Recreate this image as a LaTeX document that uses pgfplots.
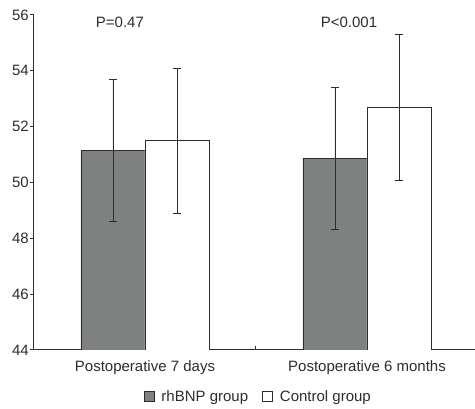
\documentclass[border=0pt]{standalone}
\usepackage{pgfplots}
\pgfplotsset{compat=1.18}
\usepackage{fontspec}
\setmainfont{Liberation Sans}
\definecolor{barg}{RGB}{127,129,129}
\definecolor{edge}{RGB}{45,45,45}
\begin{document}
\begin{tikzpicture}
\begin{axis}[
  scale only axis, width=444pt, height=335pt,
  xmin=-0.5, xmax=1.5, ymin=44, ymax=56,
  clip mode=individual,
  hide obscured y ticks=false,
  /pgf/number format/assume math mode=true,
  ybar=0pt, bar width=64pt,
  axis lines=left,
  axis line style={-, draw=edge, line width=1pt},
  ytick={44,46,...,56},
  tick style={draw=edge, line width=1pt},
  tick align=outside, major tick length=4pt,
  x tick style={yshift=4pt},
  xtick={-0.5,0.5,1.5}, x tick label as interval,
  xticklabels={Postoperative 7 days, Postoperative 6 months},
  tick label style={font=\fontsize{15}{18}\selectfont, text=edge},
  yticklabel style={inner xsep=1pt},
  xticklabel style={yshift=-3pt},
  legend style={at={(0.505,-0.14)}, anchor=center, draw=none, legend columns=2,
    font=\fontsize{15}{18}\selectfont, text=edge,
    /tikz/every odd column/.append style={column sep=5pt},
    /tikz/every even column/.append style={column sep=12pt}},
  legend image code/.code={\draw[#1, line width=0.8pt] (0pt,-5pt) rectangle (10pt,5pt);},
]
\addplot[fill=barg, draw=edge, line width=0.9pt,
  error bars/.cd, y dir=both, y explicit,
  error bar style={draw=edge, line width=0.8pt},
  error mark options={rotate=90, mark size=4pt, draw=edge, line width=0.8pt}]
  coordinates {(0,51.15) +- (0,2.55) (1,50.87) +- (0,2.54)};
\addlegendentry{rhBNP group}
\addplot[fill=white, draw=edge, line width=0.9pt,
  error bars/.cd, y dir=both, y explicit,
  error bar style={draw=edge, line width=0.8pt},
  error mark options={rotate=90, mark size=4pt, draw=edge, line width=0.8pt}]
  coordinates {(0,51.49) +- (0,2.60) (1,52.69) +- (0,2.63)};
\addlegendentry{Control group}
\pgfplotsinvokeforeach{44,46,48,50,52,54,56}{
  \draw[edge, line width=1pt] (axis cs:-0.5,#1) -- ++(-4pt,0pt);
}
\node[font=\fontsize{15}{18}\selectfont, text=edge] at (axis cs:-0.113,55.75) {P=0.47};
\node[font=\fontsize{15}{18}\selectfont, text=edge] at (axis cs:0.919,55.75) {P<0.001};
\end{axis}
\pgfresetboundingbox
\path ([shift={(-34pt,-59pt)}]current axis.south west) rectangle ++(475pt,409pt);
\end{tikzpicture}
\end{document}
